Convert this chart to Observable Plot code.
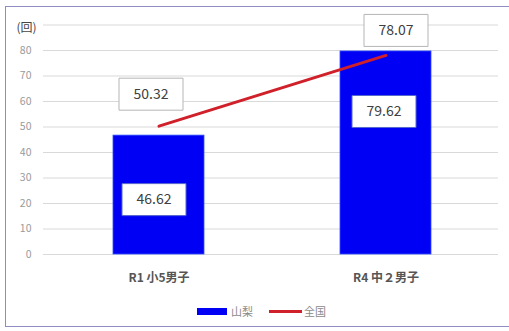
<!DOCTYPE html>
<html><head><meta charset="utf-8">
<script src="https://cdn.jsdelivr.net/npm/d3@7"></script>
<script src="https://cdn.jsdelivr.net/npm/@observablehq/plot@0.6"></script>
<style>
html,body{margin:0;background:#fff;font-family:"Noto Sans CJK JP","Noto Sans",sans-serif;overflow:hidden;}
#wrap{position:relative;width:509px;height:331px;overflow:hidden;}
#frame{position:absolute;left:5px;top:6px;width:700px;height:321px;border:1.5px solid #8e8cc0;box-sizing:border-box;pointer-events:none;}
#legend{position:absolute;left:0;top:300px;width:509px;height:22px;}
.sw{position:absolute;}
.lt{position:absolute;font-size:11px;color:#8a8a8a;line-height:14px;}
</style></head>
<body><div id="wrap"><div id="chart"></div>
<div id="legend">
<div class="sw" style="left:197px;top:8px;width:30px;height:7px;background:#0000f5"></div>
<div class="lt" style="left:231px;top:4px">山梨</div>
<div class="sw" style="left:269px;top:10px;width:33px;height:3px;background:#d0202a"></div>
<div class="lt" style="left:304px;top:4px">全国</div>
</div>
<div id="frame"></div></div>
<script>
const categories = ["R1 小5男子", "R4 中２男子"];
const yamanashi = [46.62, 79.62];
const national = [50.32, 78.07];
const yTicks = [0, 10, 20, 30, 40, 50, 60, 70, 80];
const gridTicks = [0, 10, 20, 30, 40, 50, 60, 70, 80, 90];
const unitLabel = "(回)";

const data = categories.map((c, i) => ({cat: c, yam: yamanashi[i], nat: national[i]}));
const boxSymbol = {draw(ctx){ ctx.rect(-32, -16, 64, 32); }};

const natOffsets = [[-8, -32], [10, -25]];
const yamOffsets = [[-5, 64], [-2, 60]];
const font = '"Noto Sans CJK JP","Noto Sans",sans-serif';

const marks = [
  Plot.ruleY(gridTicks, {stroke: "#d9d9d9", strokeWidth: 1}),
  Plot.barY(data, {x: "cat", y: "yam", fill: "#0000f5", stroke: "#3050ff", strokeWidth: 0.8}),
  Plot.line(data, {x: "cat", y: "nat", stroke: "#d0202a", strokeWidth: 3}),
  Plot.axisY(yTicks, {tickSize: 0, tickPadding: 12, fill: "#9a9a9a", fontSize: 10.5, fontFamily: font}),
  Plot.axisX({tickSize: 0, tickPadding: 19, fill: "#555", fontSize: 12, fontWeight: "bold", fontFamily: font}),
  Plot.text([unitLabel], {frameAnchor: "top-left", dx: -17, dy: -2, fill: "#444", fontSize: 12, fontFamily: font, textAnchor: "middle"})
];
data.forEach((d, i) => {
  const [nx, ny] = natOffsets[i];
  const [yx, yy] = yamOffsets[i];
  marks.push(Plot.dot([d], {x: "cat", y: "nat", symbol: boxSymbol, fill: "#fff", stroke: "#b5b5b5", strokeWidth: 1, dx: nx, dy: ny}));
  marks.push(Plot.text([d], {x: "cat", y: "nat", text: v => v.nat.toFixed(2), dx: nx, dy: ny, fill: "#404040", fontSize: 14, fontFamily: font}));
  marks.push(Plot.dot([d], {x: "cat", y: "yam", symbol: boxSymbol, fill: "#fff", stroke: "#5566cc", strokeWidth: 1, dx: yx, dy: yy}));
  marks.push(Plot.text([d], {x: "cat", y: "yam", text: v => v.yam.toFixed(2), dx: yx, dy: yy, fill: "#404040", fontSize: 14, fontFamily: font}));
});

const chart = Plot.plot({
  width: 509, height: 300,
  marginTop: 24.5, marginBottom: 46, marginLeft: 43, marginRight: 11,
  style: {background: "transparent", fontFamily: font},
  x: {type: "band", domain: categories, paddingInner: 0.6, paddingOuter: 0.3, align: 0.51, label: null},
  y: {domain: [0, 90], label: null},
  marks
});
document.getElementById("chart").appendChild(chart);
</script></body></html>
